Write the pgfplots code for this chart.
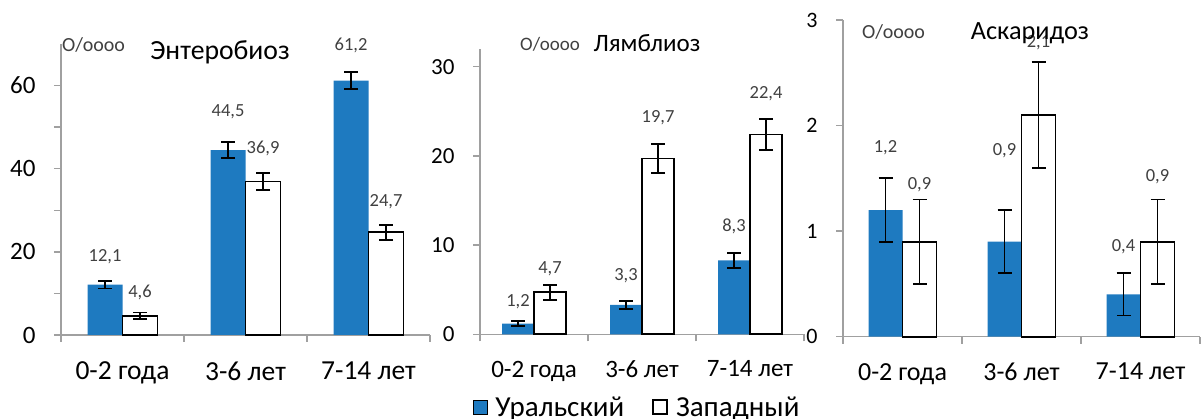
\documentclass[border=0pt]{standalone}
\usepackage{pgfplots}
\pgfplotsset{compat=1.18}
\usepackage{pgfplotstable}
\usepackage{fontspec}
\setmainfont{Carlito}

\definecolor{ural}{RGB}{30,122,192}
\definecolor{axgray}{RGB}{160,160,160}
\definecolor{labgray}{RGB}{64,64,64}

% columns: age group index, rate, error half-width, lift of the value label (pt)
\pgfplotstableread{
x y e dy
0 12.1 0.9 28
1 44.5 1.9 38
2 61.2 2.1 35
}\entU
\pgfplotstableread{
x y e dy
0 4.6 0.8 23
1 36.9 2.1 33
2 24.7 1.8 31
}\entZ
\pgfplotstableread{
x y e dy
0 1.2 0.3 22
1 3.3 0.45 29
2 8.3 0.85 34
}\lamU
\pgfplotstableread{
x y e dy
0 4.7 0.85 24
1 19.7 1.6 41
2 22.4 1.7 41
}\lamZ
\pgfplotstableread{
x y e dy
0 1.2 0.3 62
1 0.9 0.3 91
2 0.4 0.2 48
}\askU
\pgfplotstableread{
x y e dy
0 0.9 0.4 57
1 2.1 0.5 72
2 0.9 0.4 65
}\askZ

\pgfplotsset{
  panel/.style={
    scale only axis,
    anchor=south west,
    axis lines*=left,
    axis line style={draw=axgray, line width=1.3pt},
    tick style={draw=axgray, line width=1.3pt},
    tick align=outside,
    major tick length=7pt, minor tick length=7pt,
    xmin=-0.5, xmax=2.5, ymin=0,
    xtick={-0.5,0.5,1.5,2.5},
    x tick label as interval,
    xticklabels={0-2 года,3-6 лет,7-14 лет},
    xticklabel style={yshift=-16pt, text=black},
    yticklabel style={xshift=-15pt, text=black},
    /pgf/number format/assume math mode=true,
    ybar=0pt,
    clip=false,
    point meta=y,
    nodes near coords={\pgfmathprintnumber[fixed,fixed zerofill,precision=1,use comma]{\pgfplotspointmeta}},
    visualization depends on={\thisrow{dy} \as \labdy},
    every node near coord/.append style={font=\fontsize{18.5}{20}\selectfont, text=labgray, anchor=center, yshift=\labdy pt},
    legend image code/.code={\draw[#1] (0pt,2.7pt) rectangle (14pt,16.7pt);},
  },
  errstyle/.style={
    error bars/.cd, y dir=both, y explicit,
    error bar style={draw=black, line width=1.8pt},
    error mark options={draw=black, line width=1.8pt, mark size=7pt, rotate=90}},
  uralbar/.style={fill=ural, draw=none, errstyle},
  zapbar/.style={fill=white, draw=black, line width=1.8pt, errstyle},
}

\begin{document}
\begin{tikzpicture}
\useasboundingbox (0,0) rectangle (1204pt,419pt);

% Энтеробиоз
\begin{axis}[panel,
  at={(61pt,84pt)}, width=369pt, height=291pt,
  ymax=70, ytick={0,20,40,60}, minor ytick={10,30,50},
  bar width=35pt,
  ticklabel style={font=\fontsize{25}{28}\selectfont},
  xticklabel style={font=\fontsize{27.5}{30}\selectfont},
]
\addplot[uralbar] table[x=x, y=y, y error=e] {\entU};
\addplot[zapbar] table[x=x, y=y, y error=e] {\entZ};
\end{axis}

% Лямблиоз
\begin{axis}[panel,
  at={(480pt,84.7pt)}, width=324pt, height=285.4pt,
  ymax=32, ytick={0,10,20,30},
  bar width=32pt,
  ticklabel style={font=\fontsize{23}{26}\selectfont},
  xticklabel style={font=\fontsize{25}{28}\selectfont},
  legend columns=2,
  legend style={at={(-0.0216,-0.288)}, anchor=south west, draw=none, fill=none,
    inner sep=0pt, outer sep=0pt,
    font=\fontsize{29}{30}\selectfont,
    cells={anchor=base west},
    nodes={inner sep=0pt, outer sep=0pt, text depth=0pt},
    /tikz/every odd column/.append style={column sep=8pt},
    /tikz/every even column/.append style={column sep=28pt, anchor=base west}},
]
\addplot[uralbar] table[x=x, y=y, y error=e] {\lamU};
\addlegendentry{Уральский}
\addplot[zapbar] table[x=x, y=y, y error=e] {\lamZ};
\addlegendentry{Западный}
\end{axis}

% Аскаридоз
\begin{axis}[panel,
  at={(843pt,82.3pt)}, width=357pt, height=316.7pt,
  ymax=3, ytick={0,1,2,3},
  bar width=34pt,
  ticklabel style={font=\fontsize{22}{26}\selectfont},
  xticklabel style={font=\fontsize{26}{28}\selectfont},
]
\addplot[uralbar] table[x=x, y=y, y error=e] {\askU};
\addplot[zapbar] table[x=x, y=y, y error=e] {\askZ};
\end{axis}

% panel titles and units
\node[anchor=base, font=\fontsize{27.7}{30}\selectfont] at (220pt,359.5pt) {Энтеробиоз};
\node[anchor=base, font=\fontsize{25}{28}\selectfont] at (647pt,367.3pt) {Лямблиоз};
\node[anchor=base, font=\fontsize{26.3}{28}\selectfont] at (1030pt,379.7pt) {Аскаридоз};
\node[anchor=base west, inner sep=0pt, text=labgray, font=\fontsize{20}{22}\selectfont] at (62pt,367.3pt) {O/oooo};
\node[anchor=base west, inner sep=0pt, text=labgray, font=\fontsize{19}{22}\selectfont] at (520pt,368pt) {O/oooo};
\node[anchor=base west, inner sep=0pt, text=labgray, font=\fontsize{20}{22}\selectfont] at (862pt,380.7pt) {O/oooo};
\end{tikzpicture}
\end{document}
